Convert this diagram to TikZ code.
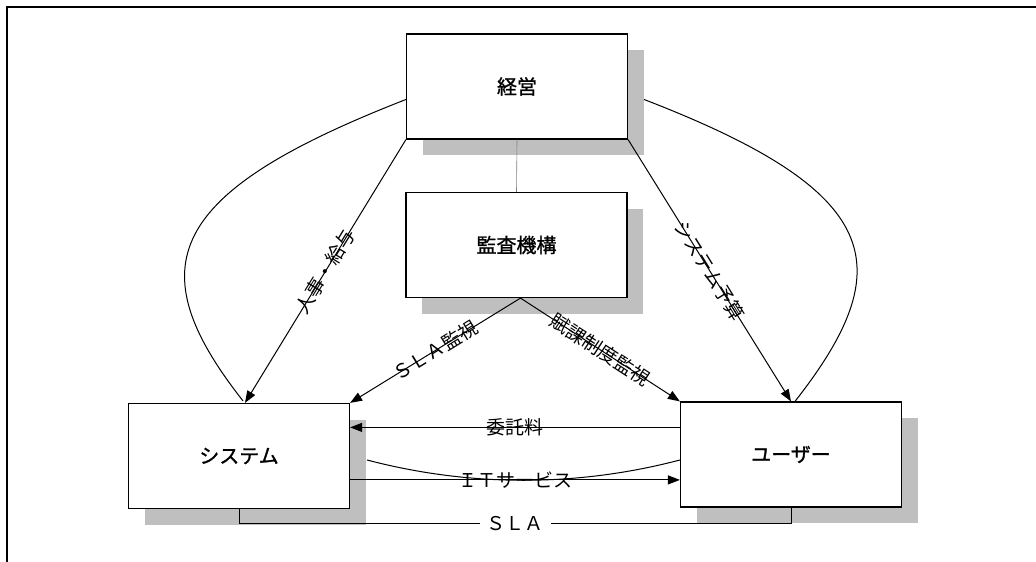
\documentclass[tikz,border=0pt]{standalone}
\usepackage{fontspec}
\newfontfamily\jp{Noto Sans CJK JP}
\newfontfamily\jpb[FakeBold=1.2]{Noto Sans CJK JP}
\usetikzlibrary{arrows.meta,calc,shadows}
\begin{document}
\begin{tikzpicture}[x=1pt,y=-1pt,
  box/.style={draw, line width=1.2pt, fill=white, minimum width=221pt, minimum height=105pt, inner sep=0pt,
    font=\jpb\fontsize{20}{24}\selectfont,
    drop shadow={shadow xshift=16pt, shadow yshift=-16pt, fill=gray!50, opacity=1}},
  conn/.style={line width=1pt},
  arr/.style={conn, -{Triangle[length=12pt,width=9pt]}},
  lbl/.style={font=\jp\fontsize{19}{22}\selectfont, inner sep=0pt},
]
\useasboundingbox (0,0) rectangle (1036,562);
\draw[line width=2pt] (7,562) -- (7,7) -- (1036,7);

\node[box] (kei) at (517,86.5) {経営};
\node[box] (kan) at (516.5,245) {監査機構};
\node[box] (sys) at (239,456) {システム};
\node[box] (usr) at (791,454.5) {ユーザー};

\draw[line width=0.6pt, gray] (kei.south) -- (kan.north);

\coordinate (sysin) at ($(sys.north)+(6,0)$);
\draw[arr] (kei.south west) -- node[lbl, sloped, midway] {人事・給与} (sysin);
\draw[arr] (kei.south east) -- node[lbl, sloped, midway] {システム予算} (usr.north);

\coordinate (la) at ($(kei.west)+(0,13)$);
\coordinate (lb) at ($(sys.north)+(4,-2)$);
\draw[conn] (la) .. controls (166,193) and (137,266) .. (lb);
\coordinate (ra) at ($(kei.east)+(16,13)$);
\coordinate (rb) at ($(usr.north)+(4,0)$);
\draw[conn] (ra) .. controls (884,192) and (901,266) .. (rb);

\coordinate (kb) at ($(kan.south)+(4,0)$);
\draw[arr] (kb) -- node[lbl, sloped, midway] {ＳＬＡ監視} (sys.north east);
\draw[arr] (kb) -- node[lbl, sloped, midway] {賦課制度監視} (usr.north west);

\coordinate (f1) at ($(usr.north west)+(0,26)$);
\draw[arr] (f1) -- node[lbl, midway] {委託料} (sys.east |- f1);
\coordinate (f2) at ($(sys.north east)+(0,77)$);
\draw[arr] (f2) -- node[lbl, midway] {ＩＴサービス} (usr.west |- f2);

\coordinate (c1) at ($(sys.east)+(17,4)$);
\draw[conn] (c1) .. controls (470,487) and (577,487) .. (usr.west |- c1);

\draw[conn] (sys.south) -- ++(0,14) coordinate (s1) -- node[lbl, midway, fill=white, inner xsep=7pt, inner ysep=1pt] {ＳＬＡ} (s1 -| usr.south) -- (usr.south);
\end{tikzpicture}
\end{document}
